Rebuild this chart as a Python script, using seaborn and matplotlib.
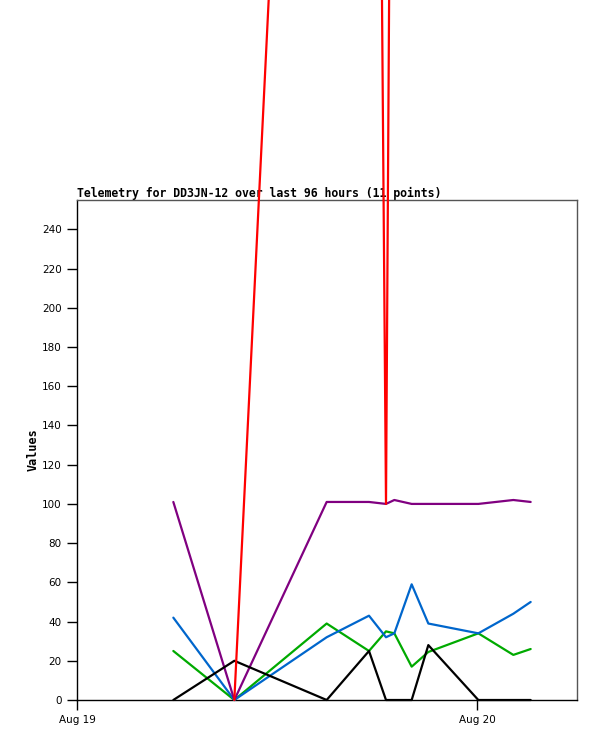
import matplotlib
matplotlib.use("Agg")
import matplotlib.pyplot as plt
import matplotlib.dates as mdates
import seaborn as sns
import pandas as pd
import numpy as np

# hours after Aug 19 00:00 for the 11 telemetry points
hours = [5.78, 9.44, 14.98, 17.52, 18.54, 19.04, 20.08, 21.08, 24.08, 26.18, 27.22]
ch_red = [np.nan, 0, 960, 1190, 100, 790, 900, 900, 900, 900, 900]
ch_purple = [101, 0, 101, 101, 100, 102, 100, 100, 100, 102, 101]
ch_blue = [42, 0, 32, 43, 32, 34, 59, 39, 34, 44, 50]
ch_green = [25, 0, 39, 25, 35, 34, 17, 24.5, 34, 23, 26]
ch_black = [0, 20, 0, 25, 0, 0, 0, 28, 0, 0, 0]

start = pd.Timestamp("2024-08-19")
times = start + pd.to_timedelta(hours, unit="h")

sns.set_style("ticks")
plt.rcParams['font.family'] = ['DejaVu Sans']
plt.rcParams['text.color'] = 'black'
plt.rcParams['axes.labelcolor'] = 'black'

fig = plt.figure(figsize=(5.97, 7.41), dpi=100)
ax = fig.add_axes([77 / 597, 41 / 741, 500 / 597, 500 / 741])

series = [(ch_red, "#ff0000", 4), (ch_purple, "#800080", 3.2), (ch_blue, "#0066cc", 3.1),
          (ch_green, "#00aa00", 3.0), (ch_black, "#000000", 3.3)]
for vals, col, z in series:
    sns.lineplot(x=times, y=vals, color=col, linewidth=1.6, ax=ax,
                 clip_on=False, zorder=z, estimator=None)

ax.set_xlim(start, start + pd.Timedelta(hours=30))
ax.set_ylim(0, 255)
ax.set_yticks(range(0, 241, 20))
ax.xaxis.set_major_locator(mdates.DayLocator())
ax.xaxis.set_major_formatter(mdates.DateFormatter("%b %d"))
ax.tick_params(axis="both", direction="out", length=7, width=1, colors="black",
               labelsize=7.5, pad=4)

for side in ["top", "right"]:
    ax.spines[side].set_color("#555555")
for side in ["left", "bottom"]:
    ax.spines[side].set_color("black")
for s in ax.spines.values():
    s.set_linewidth(1)
    s.set_zorder(2.5)

ax.set_xlabel("")
ax.set_ylabel("Values", family="DejaVu Sans Mono", fontweight="bold", fontsize=8.5,
              labelpad=2, color="black")
t = ax.set_title("Telemetry for DD3JN-12 over last 96 hours (11 points)", loc="left",
                 family="DejaVu Sans Mono", fontweight="bold", fontsize=8.3, pad=2,
                 color="black")
t.set_zorder(1)

fig.savefig("out.png", dpi=100)
